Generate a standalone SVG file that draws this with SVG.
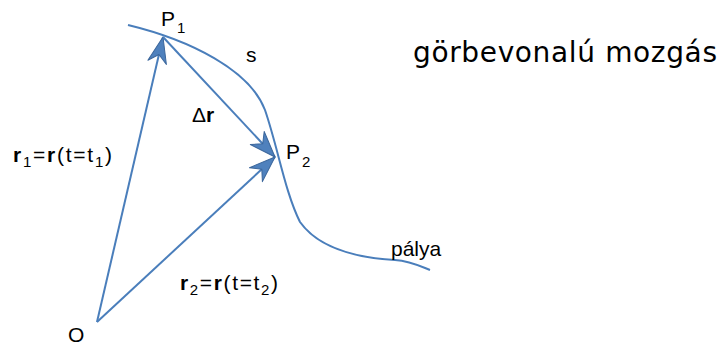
<svg xmlns="http://www.w3.org/2000/svg" width="722" height="345" viewBox="0 0 722 345">
<style>
.ln{fill:none;stroke:#4a7ebb;stroke-width:2}
.t{font-family:"Liberation Sans",Arial,sans-serif;font-size:21px;fill:#000}
.b{font-weight:bold}
.sub{font-size:15px}
.title{font-family:"DejaVu Sans",Verdana,sans-serif;font-size:28px;fill:#000}
</style>
<defs>
<marker id="stealth" viewBox="-27 -11 29 22" refX="0" refY="0" markerWidth="29" markerHeight="22" markerUnits="userSpaceOnUse" orient="auto">
<path d="M0,0 L-26,-9.5 L-18,0 L-26,9.5 Z" fill="#4f81bd" stroke="#3b669b" stroke-width="1" stroke-linejoin="round"/>
</marker>
</defs>
<rect width="722" height="345" fill="#fff"/>
<g id="path-curve">
<path class="ln" d="M128,25 C190,40 250,70 265,110 C278,148 285,192 300,222 C320,250 360,258 395,260 C410,261 420,266 430,270"/>
</g>
<g id="connectors">
<line class="ln" x1="97" y1="322" x2="163" y2="37" marker-end="url(#stealth)"/>
<line class="ln" x1="97" y1="322" x2="275" y2="157" marker-end="url(#stealth)"/>
<line class="ln" x1="163" y1="37" x2="275" y2="157" marker-end="url(#stealth)"/>
</g>
<g id="P1"><text class="t" x="161" y="26">P<tspan class="sub" dx="2" dy="7">1</tspan></text></g>
<g id="s"><text class="t" x="246" y="62" font-size="22">s</text></g>
<g id="dr"><text class="t" x="192" y="122" font-size="22">Δ<tspan class="b">r</tspan></text></g>
<g id="P2"><text class="t" x="286" y="159">P<tspan class="sub" dx="2" dy="8">2</tspan></text></g>
<g id="r1"><text class="t" x="13" y="162" font-size="22" textLength="99" lengthAdjust="spacing"><tspan class="b">r</tspan><tspan class="sub" dy="5">1</tspan><tspan dy="-5">=</tspan><tspan class="b">r</tspan>(t=t<tspan class="sub" dy="5">1</tspan><tspan dy="-5">)</tspan></text></g>
<g id="r2"><text class="t" x="180" y="290" font-size="22" textLength="98" lengthAdjust="spacing"><tspan class="b">r</tspan><tspan class="sub" dy="5">2</tspan><tspan dy="-5">=</tspan><tspan class="b">r</tspan>(t=t<tspan class="sub" dy="5">2</tspan><tspan dy="-5">)</tspan></text></g>
<g id="O"><text class="t" x="68" y="342" font-size="24">O</text></g>
<g id="palya"><text class="t" x="391" y="256" font-size="22">pálya</text></g>
<g id="title"><text class="title" x="413" y="62" textLength="304" lengthAdjust="spacing">görbevonalú mozgás</text></g>
</svg>
